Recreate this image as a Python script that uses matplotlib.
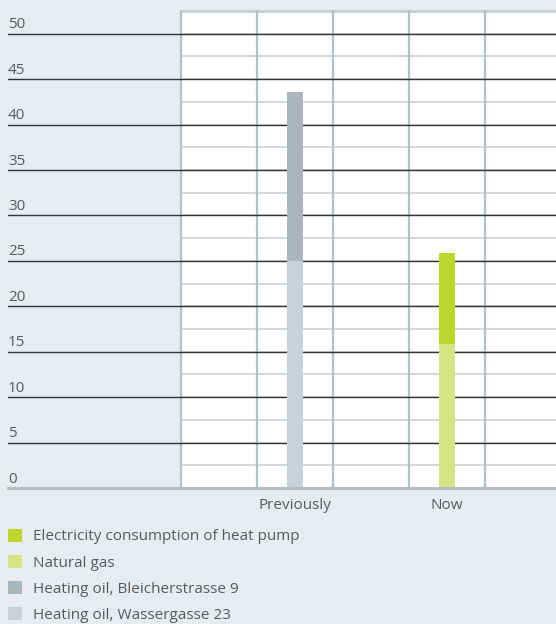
import matplotlib
matplotlib.use("Agg")
import matplotlib.pyplot as plt
from matplotlib.patches import Patch, Rectangle

plt.rcParams['font.family'] = ['Open Sans', 'DejaVu Sans']

categories = ["Previously", "Now"]
wassergasse = [25.0, 0.0]
bleicher = [18.6, 0.0]
natural_gas = [0.0, 15.8]
electricity = [0.0, 10.1]
y_ticks = [0, 5, 10, 15, 20, 25, 30, 35, 40, 45, 50]
legend_labels = ["Electricity consumption of heat pump", "Natural gas",
                 "Heating oil, Bleicherstrasse 9", "Heating oil, Wassergasse 23"]

c_elec = "#bed72d"
c_gas = "#d6e385"
c_bleich = "#a9b6be"
c_wasser = "#c9d1d8"
bg = "#e8ecef"
grid_v = "#b4bfc6"
grid_h = "#c5ced5"
text_c = "#595959"

W, H = 556, 624
fig = plt.figure(figsize=(W / 100, H / 100), dpi=100, facecolor=bg)
ax = fig.add_axes([8 / W, (H - 488) / H, (W - 8) / W, (488 - 11) / H])
ax.set_facecolor(bg)

col = 76.0
x0 = -(181 - 8) / col
x1 = (556 - 181) / col
ax.set_xlim(x0, x1)
ax.set_ylim(0, 52.5)

# white plot area
ax.add_patch(Rectangle((0, 0), x1, 52.5, facecolor="white", edgecolor="none", zorder=0))

# minor light horizontal lines within white area
for v in [2.5 + 2.5 * i for i in range(21)]:
    ax.plot([0, x1], [v, v], color=grid_h, lw=1.1, zorder=1, solid_capstyle='butt')
ax.plot([0, x1], [52.5, 52.5], color=grid_h, lw=2.0, zorder=1, clip_on=False)

# vertical grid lines
for xv in range(0, 5):
    ax.plot([xv, xv], [0, 52.5], color=grid_v, lw=1.6, zorder=1.5, clip_on=False)

# black major lines
for v in y_ticks[1:]:
    ax.plot([x0, x1], [v, v], color="#333333", lw=1.0, zorder=2)

# bottom axis line
ax.plot([x0, x1], [0, 0], color=grid_v, lw=2.2, zorder=4, clip_on=False)

# bars
xpos = [1.5, 3.5]
bw = 16 / col
ax.bar(xpos, wassergasse, bw, color=c_wasser, zorder=3)
ax.bar(xpos, bleicher, bw, bottom=wassergasse, color=c_bleich, zorder=3)
ax.bar(xpos, natural_gas, bw, color=c_gas, zorder=3)
ax.bar(xpos, electricity, bw, bottom=natural_gas, color=c_elec, zorder=3)

# y labels
for v in y_ticks:
    ax.text(x0, v + 0.6, str(v), ha="left", va="baseline", fontsize=11, color=text_c, zorder=5)

ax.set_xticks(xpos)
ax.set_xticklabels(categories, fontsize=11, color=text_c)
ax.tick_params(axis="x", length=0, pad=7)
ax.set_yticks([])
for s in ax.spines.values():
    s.set_visible(False)

handles = [Patch(facecolor=c, edgecolor="none") for c in [c_elec, c_gas, c_bleich, c_wasser]]
leg = fig.legend(handles, legend_labels, loc="upper left", bbox_to_anchor=(0.0, (H - 521) / H),
                 frameon=False, fontsize=11, handlelength=0.95, handleheight=0.95,
                 labelspacing=0.67, handletextpad=0.7, borderaxespad=0, borderpad=0.5)
for t in leg.get_texts():
    t.set_color(text_c)

fig.savefig("out.png", dpi=100, facecolor=bg)
